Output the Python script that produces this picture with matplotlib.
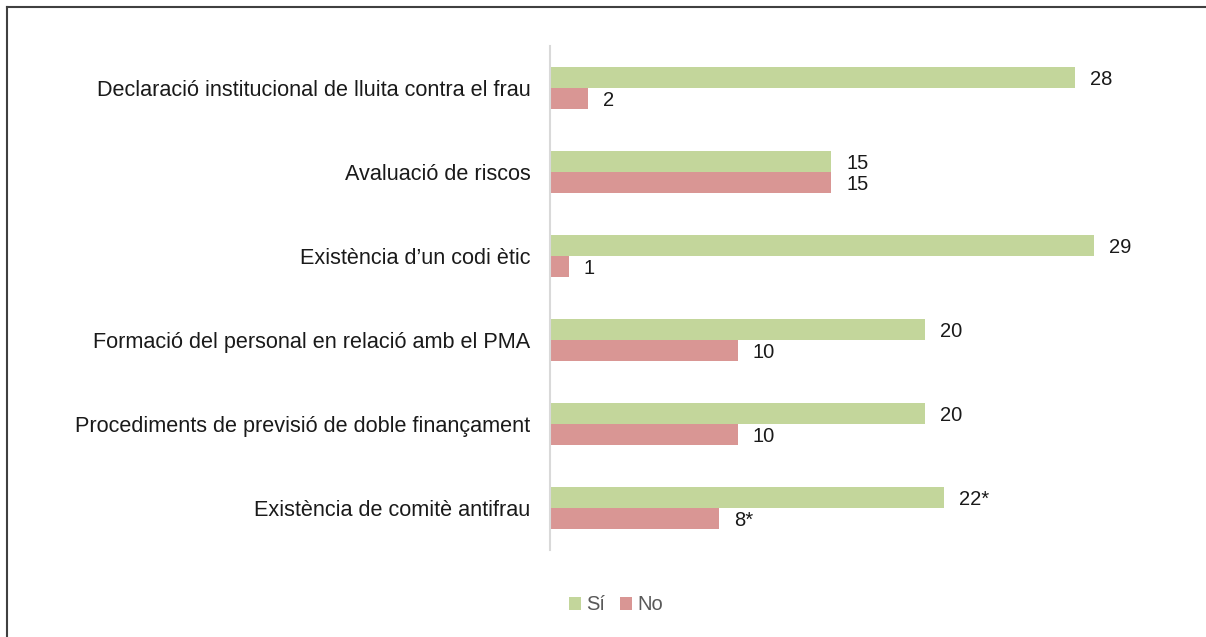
import matplotlib.pyplot as plt
import numpy as np
from matplotlib.lines import Line2D

categories = ['Declaració institucional de lluita contra el frau',
              'Avaluació de riscos',
              "Existència d’un codi ètic",
              'Formació del personal en relació amb el PMA',
              'Procediments de previsió de doble finançament',
              'Existència de comitè antifrau']
# bars as drawn in the picture (the starred row is drawn at 21 / 9)
si_values = [28, 15, 29, 20, 20, 21]
no_values = [2, 15, 1, 10, 10, 9]
si_labels = ['28', '15', '29', '20', '20', '22*']
no_labels = ['2', '15', '1', '10', '10', '8*']

plt.rcParams['font.family'] = ['Liberation Sans', 'DejaVu Sans']

fig = plt.figure(figsize=(12.06, 6.37), dpi=100)
ax = fig.add_axes([550 / 1206, 1 - 550 / 637, 630 / 1206, 504 / 637])

y = np.arange(len(categories))
h = 0.25
green = '#c3d69b'
red = '#d99694'
ax.barh(y - h / 2, si_values, height=h, color=green, label='Sí')
ax.barh(y + h / 2, no_values, height=h, color=red, label='No')

for i in range(len(categories)):
    ax.text(si_values[i] + 0.8, y[i] - h / 2 + 0.02, si_labels[i], va='center', ha='left', fontsize=14.5, color='#1a1a1a')
    ax.text(no_values[i] + 0.8, y[i] + h / 2 + 0.02, no_labels[i], va='center', ha='left', fontsize=14.5, color='#1a1a1a')

ax.set_xlim(0, 630 / 18.75)
ax.set_ylim(len(categories) - 0.5, -0.5)
ax.set_yticks(y)
ax.set_yticklabels(categories, fontsize=15.6, color='#1a1a1a')
ax.tick_params(axis='y', length=0, pad=14)
ax.set_xticks([])
for s in ['top', 'right', 'bottom']:
    ax.spines[s].set_visible(False)
ax.spines['left'].set_color('#d9d9d9')
ax.spines['left'].set_linewidth(1.5)

leg = fig.legend(loc='center', bbox_to_anchor=(616 / 1206, 1 - 605 / 637), ncol=2, frameon=False,
                 fontsize=14.5, handlelength=0.6, handleheight=0.6, handletextpad=0.3, columnspacing=0.7)
for t in leg.get_texts():
    t.set_color('#595959')

# frame of the chart area (only top and left visible)
fig.add_artist(Line2D([7 / 1206, 7 / 1206], [0, 1 - 7 / 637], color='#404040', lw=1.5))
fig.add_artist(Line2D([7 / 1206, 1], [1 - 7 / 637, 1 - 7 / 637], color='#404040', lw=1.5))

fig.savefig('out.png', dpi=100)
